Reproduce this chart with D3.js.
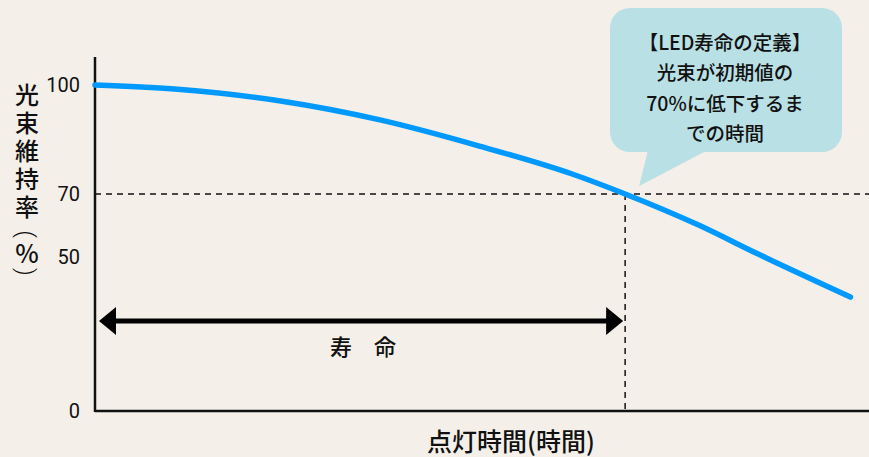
<!DOCTYPE html>
<html>
<head>
<meta charset="utf-8">
<script src="https://cdn.jsdelivr.net/npm/d3@7"></script>
<style>
  body { margin: 0; background: #f4f0e9; }
  svg { display: block; font-family: "Noto Sans CJK JP", "Noto Sans", sans-serif; }
</style>
</head>
<body>
<svg width="869" height="457"></svg>
<script>
// data
var hours = [0, 6000, 14000, 21500, 29000, 36000, 40000, 45500, 50000, 57000];
var flux = [100, 98.9, 95.6, 90.4, 83.2, 75.5, 70, 60.2, 51.0, 37.0];
var yTicks = [0, 50, 70, 100];
var lifeHours = 40000;
var lifeLevel = 70;
var yTitleChars = ["光", "束", "維", "持", "率", "(", "%", ")"];
var noteLines = ["【LED寿命の定義】", "光束が初期値の", "70%に低下するま", "での時間"];

var svg = d3.select("svg"),
    width = +svg.attr("width"),
    height = +svg.attr("height");

svg.append("rect").attr("width", width).attr("height", height).attr("fill", "#f4f0e9");

//scales
var x = d3.scaleLinear().domain([0, 58400]).range([95, 869]);
var y = d3.scaleLinear().domain([0, 50, 70, 100]).range([411, 257, 194, 85]);

//dashed guides
svg.append("line")
  .attr("x1", x(0)).attr("x2", width)
  .attr("y1", y(lifeLevel)).attr("y2", y(lifeLevel))
  .attr("stroke", "#111").attr("stroke-width", 1.5).attr("stroke-dasharray", "6,5");
svg.append("line")
  .attr("x1", x(lifeHours)).attr("x2", x(lifeHours))
  .attr("y1", y(lifeLevel)).attr("y2", y(0))
  .attr("stroke", "#111").attr("stroke-width", 1.5).attr("stroke-dasharray", "6,5");

//axes lines
svg.append("line")
  .attr("x1", x(0)).attr("x2", x(0)).attr("y1", 57).attr("y2", y(0) + 1)
  .attr("stroke", "#111").attr("stroke-width", 2.5);
svg.append("line")
  .attr("x1", x(0)).attr("x2", width).attr("y1", y(0)).attr("y2", y(0))
  .attr("stroke", "#111").attr("stroke-width", 2.5);

//tick labels
svg.selectAll("text.tick")
  .data(yTicks)
  .enter().append("text")
  .attr("class", "tick")
  .attr("x", 80)
  .attr("y", function(d) { return y(d); })
  .attr("dy", "0.36em")
  .attr("text-anchor", "end")
  .attr("font-family", "Roboto, sans-serif")
  .attr("font-size", "20px")
  .attr("fill", "#111")
  .text(function(d) { return d; });

//y title, one char per row; brackets turned sideways
var rowY = [95, 123, 151, 179, 207, 234, 254, 272];
svg.selectAll("text.ytitle")
  .data(yTitleChars)
  .enter().append("text")
  .attr("class", "ytitle")
  .attr("text-anchor", "middle")
  .attr("dy", "0.36em")
  .attr("transform", function(d, i) {
    var t = "translate(27," + rowY[i] + ")";
    return (d == "(" || d == ")") ? t + " rotate(90)" : t;
  })
  .attr("font-family", function(d) { return (d == "(" || d == ")") ? "Roboto, sans-serif" : null; })
  .attr("font-size", function(d) { return d == "%" ? "25px" : "24px"; })
  .attr("font-weight", function(d) { return (d == "(" || d == ")") ? 300 : 500; })
  .attr("fill", "#111")
  .text(function(d) { return d; });

//x title
svg.append("text")
  .attr("x", 511).attr("y", 442).attr("dy", "0.36em")
  .attr("text-anchor", "middle")
  .attr("font-size", "25px")
  .attr("font-weight", 500)
  .attr("fill", "#111")
  .text("点灯時間(時間)");

//curve
var pts = hours.map(function(h, i) { return [h, flux[i]]; });
var line = d3.line()
  .x(function(d) { return x(d[0]); })
  .y(function(d) { return y(d[1]); })
  .curve(d3.curveMonotoneX);
svg.append("path")
  .datum(pts)
  .attr("d", line)
  .attr("fill", "none")
  .attr("stroke", "#0099ff")
  .attr("stroke-width", 5.5)
  .attr("stroke-linecap", "round");

//life arrow
var ay = 321;
svg.append("line")
  .attr("x1", x(0) + 15).attr("x2", x(lifeHours) - 15)
  .attr("y1", ay).attr("y2", ay)
  .attr("stroke", "#000").attr("stroke-width", 5);
svg.append("path")
  .attr("d", "M" + (x(0) + 4) + "," + ay + "L" + (x(0) + 21) + "," + (ay - 14) + "L" + (x(0) + 21) + "," + (ay + 14) + "Z")
  .attr("fill", "#000");
svg.append("path")
  .attr("d", "M" + (x(lifeHours) - 2) + "," + ay + "L" + (x(lifeHours) - 19) + "," + (ay - 14) + "L" + (x(lifeHours) - 19) + "," + (ay + 14) + "Z")
  .attr("fill", "#000");
svg.append("text")
  .attr("x", 363).attr("y", 347).attr("dy", "0.36em")
  .attr("text-anchor", "middle")
  .attr("font-size", "22px")
  .attr("font-weight", 500)
  .attr("fill", "#111")
  .text("寿　命");

//callout
var note = svg.append("g");
note.append("rect")
  .attr("x", 610).attr("y", 8).attr("width", 232).attr("height", 144)
  .attr("rx", 20).attr("fill", "#b9e0e4");
note.append("path")
  .attr("d", "M648,150L708,150L" + (x(lifeHours) + 14) + "," + (y(lifeLevel) - 8) + "Z")
  .attr("fill", "#b9e0e4");
note.selectAll("text")
  .data(noteLines)
  .enter().append("text")
  .attr("x", 725)
  .attr("y", function(d, i) { return 43 + i * 30.3; })
  .attr("dy", "0.36em")
  .attr("text-anchor", "middle")
  .attr("font-size", "19.5px")
  .attr("font-weight", 500)
  .attr("fill", "#111")
  .text(function(d) { return d; });
</script>
</body>
</html>
